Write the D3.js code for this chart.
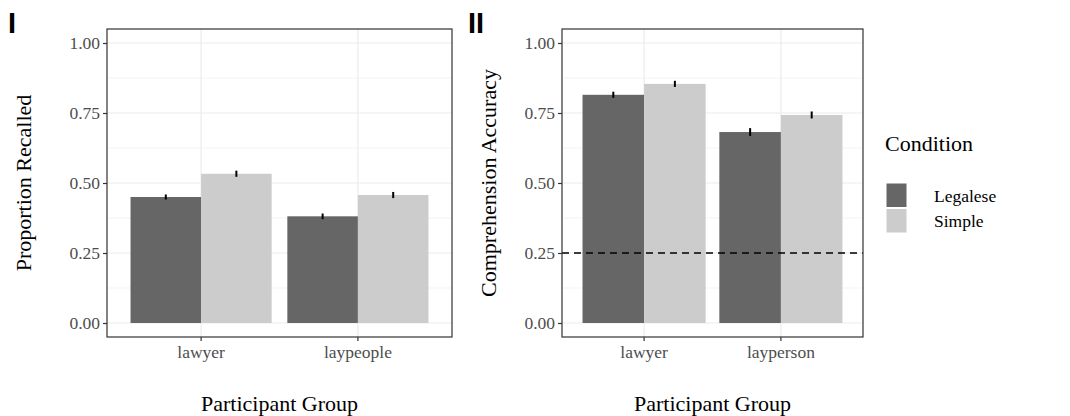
<!DOCTYPE html>
<html>
<head>
<meta charset="utf-8">
<script src="https://cdn.jsdelivr.net/npm/d3@7"></script>
<style>
  body { margin: 0; background: white; }
  #mydiv { width: 1070px; height: 416px; }
</style>
</head>
<body>
<div id="mydiv"></div>
<script>
// data
var groupsRecall = ["lawyer", "laypeople"];
var groupsAccuracy = ["lawyer", "layperson"];
var conditions = ["Legalese", "Simple"];
var colors = ["#666666", "#cccccc"];

var recallLegalese = [0.450, 0.381];
var recallSimple = [0.533, 0.457];
var recallErrLegalese = [0.009, 0.010];
var recallErrSimple = [0.011, 0.011];

var accLegalese = [0.815, 0.682];
var accSimple = [0.854, 0.743];
var accErrLegalese = [0.011, 0.014];
var accErrSimple = [0.011, 0.0125];

var yTicks = [0, 0.25, 0.5, 0.75, 1];
var yMinor = [0.125, 0.375, 0.625, 0.875];
var chanceLevel = 0.25;

var serif = "'Liberation Serif', 'Times New Roman', serif";

var svg = d3.select("#mydiv").append("svg")
  .attr("width", 1070)
  .attr("height", 416)
  .style("background-color", "white");

function buildRows(groups, leg, simp, errLeg, errSimp) {
  var rows = [];
  groups.forEach(function(g, i) {
    rows.push({group: g, cond: "Legalese", value: leg[i], err: errLeg[i]});
    rows.push({group: g, cond: "Simple", value: simp[i], err: errSimp[i]});
  });
  return rows;
}

function drawPanel(opts) {
  var left = opts.left, right = opts.right, top = 29, bottom = 337;

  var x = d3.scaleBand()
    .domain(opts.groups)
    .range([left, right])
    .paddingInner(0.1)
    .paddingOuter(0.15);

  var xc = d3.scaleBand()
    .domain(conditions)
    .range([0, x.bandwidth()]);

  var y = d3.scaleLinear()
    .domain([-0.05, 1.05])
    .range([bottom, top]);

  var color = d3.scaleOrdinal().domain(conditions).range(colors);

  var g = svg.append("g");

  // grid
  g.selectAll(".minor").data(yMinor).enter().append("line")
    .attr("x1", left).attr("x2", right)
    .attr("y1", function(d) { return y(d); })
    .attr("y2", function(d) { return y(d); })
    .attr("stroke", "#ebebeb").attr("stroke-width", 0.6);

  g.selectAll(".major").data(yTicks).enter().append("line")
    .attr("x1", left).attr("x2", right)
    .attr("y1", function(d) { return y(d); })
    .attr("y2", function(d) { return y(d); })
    .attr("stroke", "#ebebeb").attr("stroke-width", 1.2);

  g.selectAll(".vgrid").data(opts.groups).enter().append("line")
    .attr("x1", function(d) { return x(d) + x.bandwidth() / 2; })
    .attr("x2", function(d) { return x(d) + x.bandwidth() / 2; })
    .attr("y1", top).attr("y2", bottom)
    .attr("stroke", "#ebebeb").attr("stroke-width", 1.2);

  // bars
  g.selectAll(".bar").data(opts.rows).enter().append("rect")
    .attr("x", function(d) { return x(d.group) + xc(d.cond); })
    .attr("width", xc.bandwidth())
    .attr("y", function(d) { return y(d.value); })
    .attr("height", function(d) { return y(0) - y(d.value); })
    .attr("fill", function(d) { return color(d.cond); });

  // error bars, no caps
  g.selectAll(".err").data(opts.rows).enter().append("line")
    .attr("x1", function(d) { return x(d.group) + xc(d.cond) + xc.bandwidth() / 2; })
    .attr("x2", function(d) { return x(d.group) + xc(d.cond) + xc.bandwidth() / 2; })
    .attr("y1", function(d) { return y(d.value - d.err); })
    .attr("y2", function(d) { return y(d.value + d.err); })
    .attr("stroke", "black").attr("stroke-width", 2);

  if (opts.chance != null) {
    g.append("line")
      .attr("x1", left).attr("x2", right)
      .attr("y1", y(opts.chance)).attr("y2", y(opts.chance))
      .attr("stroke", "black").attr("stroke-width", 1.5)
      .attr("stroke-dasharray", "7,5");
  }

  // border
  g.append("rect")
    .attr("x", left).attr("y", top)
    .attr("width", right - left).attr("height", bottom - top)
    .attr("fill", "none").attr("stroke", "#333333").attr("stroke-width", 1.2);

  // axes
  var yaxis = g.append("g")
    .attr("transform", "translate(" + left + ",0)")
    .call(d3.axisLeft(y).tickValues(yTicks).tickFormat(d3.format(".2f")).tickSize(4).tickPadding(3));
  yaxis.select(".domain").remove();

  var xaxis = g.append("g")
    .attr("transform", "translate(0," + bottom + ")")
    .call(d3.axisBottom(x).tickSize(4).tickPadding(5));
  xaxis.select(".domain").remove();

  [yaxis, xaxis].forEach(function(a) {
    a.selectAll("line").attr("stroke", "#333333").attr("stroke-width", 1.2);
    a.selectAll("text")
      .style("font-family", serif)
      .style("font-size", "17.5px")
      .attr("fill", "#4d4d4d");
  });

  // titles
  g.append("text")
    .attr("x", (left + right) / 2).attr("y", 403)
    .attr("text-anchor", "middle").attr("dominant-baseline", "central")
    .style("font-family", serif).style("font-size", "22px")
    .text("Participant Group");

  g.append("text")
    .attr("transform", "translate(" + opts.ytitleX + "," + (top + bottom) / 2 + ") rotate(-90)")
    .attr("text-anchor", "middle").attr("dominant-baseline", "central")
    .style("font-family", serif).style("font-size", "22px")
    .text(opts.ytitle);

  svg.append("text")
    .attr("x", opts.tagX).attr("y", 33)
    .style("font-family", "'Liberation Sans', Arial, sans-serif")
    .style("font-size", "29px").style("font-weight", "bold")
    .text(opts.tag);
}

drawPanel({
  left: 107, right: 452,
  groups: groupsRecall,
  rows: buildRows(groupsRecall, recallLegalese, recallSimple, recallErrLegalese, recallErrSimple),
  ytitle: "Proportion Recalled", ytitleX: 23,
  tag: "I", tagX: 8,
  chance: null
});

drawPanel({
  left: 562, right: 863,
  groups: groupsAccuracy,
  rows: buildRows(groupsAccuracy, accLegalese, accSimple, accErrLegalese, accErrSimple),
  ytitle: "Comprehension Accuracy", ytitleX: 488,
  tag: "II", tagX: 468,
  chance: chanceLevel
});

// legend
var legend = svg.append("g");
legend.append("text")
  .attr("x", 885).attr("y", 143)
  .attr("dominant-baseline", "central")
  .style("font-family", serif).style("font-size", "22px")
  .text("Condition");

var keys = legend.selectAll(".key").data(conditions).enter().append("g")
  .attr("transform", function(d, i) { return "translate(886," + (183 + i * 25.5) + ")"; });

keys.append("rect")
  .attr("width", 21).attr("height", 24.5)
  .attr("fill", function(d, i) { return colors[i]; })
  .attr("stroke", "white").attr("stroke-width", 1);

keys.append("text")
  .attr("x", 48).attr("y", 12.5)
  .attr("dominant-baseline", "central")
  .style("font-family", serif).style("font-size", "17.5px")
  .text(function(d) { return d; });
</script>
</body>
</html>
